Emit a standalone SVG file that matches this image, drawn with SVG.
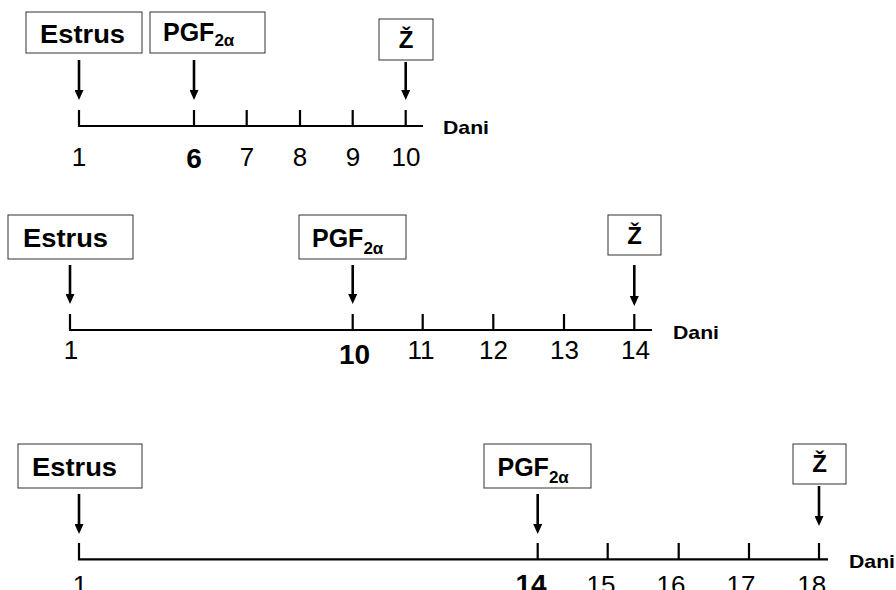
<svg xmlns="http://www.w3.org/2000/svg" width="896" height="590" viewBox="0 0 896 590">
<style>
text{font-family:"Liberation Sans",Arial,sans-serif;fill:#000}
.box{fill:#fff;stroke:#333;stroke-width:1}
.lbl{font-weight:bold}
.big{font-size:26px}
.pgf{font-size:25px}
.sub{font-size:17px}
.z{font-size:24px;text-anchor:middle}
.num{font-size:26px;text-anchor:middle}
.bnum{font-size:28px;font-weight:bold;text-anchor:middle}
.dani{font-size:19px;font-weight:bold}
.axis{stroke:#000;stroke-width:2.2;fill:none}
.arr{stroke:#000;stroke-width:2.6;marker-end:url(#ah)}
</style>
<defs>
<marker id="ah" markerUnits="userSpaceOnUse" markerWidth="11" markerHeight="9" refX="6" refY="4.5" orient="auto" viewBox="0 0 11 9">
<path d="M0,0 L10,4.5 L0,9 Z" fill="#000"/>
</marker>
</defs>

<!-- Panel 1 -->
<g id="p1-estrus"><rect class="box" x="26" y="12" width="116" height="41"/><text class="lbl big" x="40" y="43" textLength="85" lengthAdjust="spacingAndGlyphs">Estrus</text></g>
<g id="p1-pgf"><rect class="box" x="150" y="12" width="115" height="41"/><text class="lbl pgf" x="163" y="41">PGF<tspan class="sub" dy="5">2α</tspan></text></g>
<g id="p1-z"><rect class="box" x="379" y="19" width="54" height="41"/><text class="lbl z" x="406" y="48">Ž</text></g>
<g id="p1-axis">
<path class="axis" d="M79,110 V126 H423 M194,110 V126 M246.7,110 V126 M300,110 V126 M352.7,110 V126 M405.7,110 V126"/>
<text class="num" x="79" y="166">1</text>
<text class="bnum" x="194" y="168">6</text>
<text class="num" x="247" y="166">7</text>
<text class="num" x="300" y="166">8</text>
<text class="num" x="353" y="166">9</text>
<text class="num" x="406" y="166">10</text>
<text class="dani" x="443" y="134" textLength="46" lengthAdjust="spacingAndGlyphs">Dani</text>
</g>

<!-- Panel 2 -->
<g id="p2-estrus"><rect class="box" x="8" y="215" width="125" height="44"/><text class="lbl big" x="23" y="247" textLength="85" lengthAdjust="spacingAndGlyphs">Estrus</text></g>
<g id="p2-pgf"><rect class="box" x="299" y="215" width="107" height="44"/><text class="lbl pgf" x="312" y="247">PGF<tspan class="sub" dy="7">2α</tspan></text></g>
<g id="p2-z"><rect class="box" x="608" y="215" width="53" height="40"/><text class="lbl z" x="634.5" y="244">Ž</text></g>
<g id="p2-axis">
<path class="axis" d="M70,314 V330 H652 M352.7,314 V330 M422.7,314 V330 M493.3,314 V330 M564,314 V330 M634.3,314 V330"/>
<text class="num" x="71" y="359">1</text>
<text class="bnum" x="354.5" y="364">10</text>
<text class="num" x="421" y="359">11</text>
<text class="num" x="493.5" y="359">12</text>
<text class="num" x="564.5" y="359">13</text>
<text class="num" x="635.5" y="359">14</text>
<text class="dani" x="673" y="339" textLength="46" lengthAdjust="spacingAndGlyphs">Dani</text>
</g>

<!-- Panel 3 -->
<g id="p3-estrus"><rect class="box" x="18" y="444" width="124" height="44"/><text class="lbl big" x="32" y="476" textLength="85" lengthAdjust="spacingAndGlyphs">Estrus</text></g>
<g id="p3-pgf"><rect class="box" x="484" y="444" width="107" height="44"/><text class="lbl pgf" x="497.5" y="476">PGF<tspan class="sub" dy="7">2α</tspan></text></g>
<g id="p3-z"><rect class="box" x="793" y="444" width="53" height="40"/><text class="lbl z" x="819.5" y="472">Ž</text></g>
<g id="p3-axis">
<path class="axis" d="M79,543 V559.3 H828 M537.7,543 V559.3 M607.7,543 V559.3 M678.7,543 V559.3 M749,543 V559.3 M819,543 V559.3"/>
<text class="num" x="80" y="594">1</text>
<text class="bnum" x="531" y="594">14</text>
<text class="num" x="601" y="594">15</text>
<text class="num" x="671" y="594">16</text>
<text class="num" x="741" y="594">17</text>
<text class="num" x="811.7" y="594">18</text>
<text class="dani" x="849" y="568" textLength="46" lengthAdjust="spacingAndGlyphs">Dani</text>
</g>

<!-- Connectors -->
<g id="connectors">
<line class="arr" x1="79" y1="60" x2="79" y2="96"/>
<line class="arr" x1="194" y1="60" x2="194" y2="96"/>
<line class="arr" x1="405.7" y1="62" x2="405.7" y2="96"/>
<line class="arr" x1="70" y1="265" x2="70" y2="300"/>
<line class="arr" x1="352.7" y1="265" x2="352.7" y2="300"/>
<line class="arr" x1="634.3" y1="265" x2="634.3" y2="302"/>
<line class="arr" x1="79" y1="494" x2="79" y2="530"/>
<line class="arr" x1="537.7" y1="494" x2="537.7" y2="530"/>
<line class="arr" x1="819" y1="486" x2="819" y2="522"/>
</g>
</svg>
